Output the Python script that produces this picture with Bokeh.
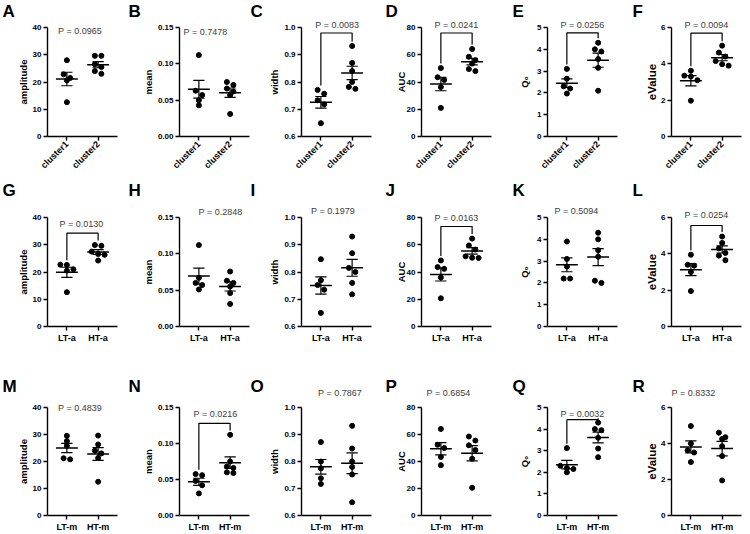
import math
import numpy as np
from bokeh.plotting import figure
from bokeh.layouts import column, row
from bokeh.models import Label, FixedTicker, Range1d
from bokeh.embed import file_html
from bokeh.resources import INLINE

# ---------------------------------------------------------------- data
# Row 1: cluster1 vs cluster2
amp_cluster1 = [28.0, 22.8, 21.5, 20.6, 12.6]
amp_cluster2 = [29.6, 29.6, 26.5, 25.5, 24.0, 23.0]
mean_cluster1 = [0.112, 0.063, 0.057, 0.050, 0.043]
mean_cluster2 = [0.075, 0.071, 0.066, 0.062, 0.057, 0.031]
width_cluster1 = [0.771, 0.757, 0.733, 0.718, 0.649]
width_cluster2 = [0.932, 0.870, 0.840, 0.800, 0.782, 0.775]
auc_cluster1 = [50.2, 43.5, 41.5, 36.3, 21.0]
auc_cluster2 = [64.2, 58.5, 56.0, 53.5, 49.5, 48.0]
q0_cluster1 = [3.10, 2.65, 2.30, 2.20, 1.97]
q0_cluster2 = [4.30, 4.00, 3.90, 3.55, 3.15, 2.10]
ev_cluster1 = [3.62, 3.35, 3.30, 3.10, 1.97]
ev_cluster2 = [5.00, 4.62, 4.40, 4.15, 3.98, 3.90]

# Row 2: LT-a vs HT-a
amp_lta = [22.7, 22.6, 21.0, 20.5, 12.6]
amp_hta = [29.9, 29.6, 27.5, 26.6, 26.3, 24.2]
mean_lta = [0.112, 0.067, 0.060, 0.057, 0.051]
mean_hta = [0.0757, 0.063, 0.060, 0.055, 0.046, 0.031]
width_lta = [0.847, 0.770, 0.752, 0.735, 0.650]
width_hta = [0.930, 0.869, 0.815, 0.800, 0.760, 0.718]
auc_lta = [48.5, 43.6, 42.3, 36.0, 20.7]
auc_hta = [64.5, 59.5, 56.5, 51.5, 50.5, 50.3]
q0_lta = [3.90, 3.10, 2.75, 2.20, 2.20]
q0_hta = [4.30, 4.00, 3.50, 3.20, 2.10, 2.00]
ev_lta = [3.95, 3.40, 3.35, 3.00, 1.95]
ev_hta = [4.95, 4.60, 4.30, 4.05, 3.90, 3.65]

# Row 3: LT-m vs HT-m
amp_ltm = [29.5, 27.6, 25.8, 21.2, 20.8]
amp_htm = [29.6, 26.3, 24.0, 23.0, 21.3, 12.5]
mean_ltm = [0.0575, 0.0560, 0.0480, 0.0420, 0.0307]
mean_htm = [0.112, 0.075, 0.068, 0.066, 0.060, 0.059]
width_ltm = [0.872, 0.800, 0.775, 0.738, 0.717]
width_htm = [0.932, 0.848, 0.800, 0.780, 0.752, 0.649]
auc_ltm = [64.1, 52.4, 50.0, 43.4, 37.3]
auc_htm = [58.5, 55.5, 52.0, 48.5, 42.0, 20.5]
q0_ltm = [3.12, 2.30, 2.20, 2.15, 2.00]
q0_htm = [4.30, 4.00, 3.95, 3.60, 3.10, 2.70]
ev_ltm = [4.97, 4.00, 3.62, 3.50, 2.97]
ev_htm = [4.60, 4.35, 4.25, 3.85, 3.30, 1.95]

group_labels = [["cluster1", "cluster2"], ["LT-a", "HT-a"], ["LT-m", "HT-m"]]
panel_letters = [list("ABCDEF"), list("GHIJKL"), list("MNOPQR")]
p_values = [
    [0.0965, 0.7478, 0.0083, 0.0241, 0.0256, 0.0094],
    [0.0130, 0.2848, 0.1979, 0.0163, 0.5094, 0.0254],
    [0.4839, 0.0216, 0.7867, 0.6854, 0.0032, 0.8332],
]

metric_names = ["amplitude", "mean", "width", "AUC", "Q\u2080", "eValue"]
amp_ticks, amp_tick_labels = [0, 10, 20, 30, 40], ["0", "10", "20", "30", "40"]
mean_ticks, mean_tick_labels = [0, 0.05, 0.10, 0.15], ["0.00", "0.05", "0.10", "0.15"]
width_ticks, width_tick_labels = [0.6, 0.7, 0.8, 0.9, 1.0], ["0.6", "0.7", "0.8", "0.9", "1.0"]
auc_ticks, auc_tick_labels = [0, 20, 40, 60, 80], ["0", "20", "40", "60", "80"]
q0_ticks, q0_tick_labels = [0, 1, 2, 3, 4, 5], ["0", "1", "2", "3", "4", "5"]
ev_ticks, ev_tick_labels = [0, 2, 4, 6], ["0", "2", "4", "6"]

axis_ticks = [amp_ticks, mean_ticks, width_ticks, auc_ticks, q0_ticks, ev_ticks]
axis_tick_labels = [amp_tick_labels, mean_tick_labels, width_tick_labels,
                    auc_tick_labels, q0_tick_labels, ev_tick_labels]

series = [
    [(amp_cluster1, amp_cluster2), (mean_cluster1, mean_cluster2), (width_cluster1, width_cluster2),
     (auc_cluster1, auc_cluster2), (q0_cluster1, q0_cluster2), (ev_cluster1, ev_cluster2)],
    [(amp_lta, amp_hta), (mean_lta, mean_hta), (width_lta, width_hta),
     (auc_lta, auc_hta), (q0_lta, q0_hta), (ev_lta, ev_hta)],
    [(amp_ltm, amp_htm), (mean_ltm, mean_htm), (width_ltm, width_htm),
     (auc_ltm, auc_htm), (q0_ltm, q0_htm), (ev_ltm, ev_htm)],
]

# ---------------------------------------------------------------- layout
FIG_W = 125
FRAME_W = 70
FRAME_H = 109
ROW_H = [180, 180, 174]
ROW_TOP = [27, 37, 47]            # frames in a row share the same top border
COL_LEFT = [47, 54, 51, 46, 47, 46]
LETTER_X = [2, 3, 0, 10, 12, 7]
LETTER_MID = [11, 9.5, 25.5]      # vertical centre of the panel letters within each row
LABEL_STANDOFF = [1, 1, 1, -3, 4, 0]
X0, X1 = -0.62, 1.62

# P-value label offsets (px): horizontal from the pair centre, vertical above the frame top
P_OFFSET = [
    [(-2.5, -3.7), (-9, -4.7), (0.7, 3), (0, 3), (0, 3), (0, 2.7)],
    [(-1, -6.3), (6, 6), (-3.5, 6.7), (0, 0), (-6, 6.3), (0, 2.7)],
    [(-2.5, 0), (1, -6.3), (3.5, 15), (-8, 15), (0, -7), (-13, 15)],
]
# bracket height, px below the frame top
BRACKET_DROP = [
    [None, None, 5.5, 5.5, 5.3, 5.7],
    [15.7, None, None, 9, None, 8],
    [None, 16, None, None, 12.3, None],
]

FONT = "Liberation Sans"


def swarm_offsets(vals, px_per_y, px_per_x, step_px=6.5, thr_px=4.8):
    """Spread points that sit at nearly the same height side by side."""
    vals = np.asarray(vals, dtype=float)
    order = np.argsort(-vals)
    clusters = []
    for idx in order:
        ypx = vals[idx] * px_per_y
        if clusters and clusters[-1][0] - ypx < thr_px:
            clusters[-1][1].append(idx)
        else:
            clusters.append([ypx, [idx]])
    off = np.zeros(len(vals))
    for _, members in clusters:
        k = len(members)
        for i, m in enumerate(members):
            off[m] = (i - (k - 1) / 2) * step_px
    return off / px_per_x


def make_panel(r, c):
    ticks = axis_ticks[c]
    y0, y1 = ticks[0], ticks[-1]
    left = COL_LEFT[c]
    top = ROW_TOP[r]
    height = ROW_H[r]
    p = figure(width=FIG_W, height=height, output_backend="svg", toolbar_location=None,
               x_range=Range1d(X0, X1), y_range=Range1d(y0, y1),
               min_border_left=left, min_border_right=FIG_W - FRAME_W - left,
               min_border_top=top, min_border_bottom=height - FRAME_H - top)
    p.outline_line_color = None
    p.xgrid.visible = False
    p.ygrid.visible = False
    p.background_fill_color = "white"
    p.border_fill_color = "white"

    # axes
    p.yaxis.ticker = FixedTicker(ticks=ticks)
    p.yaxis.major_label_overrides = {t: lab for t, lab in zip(ticks, axis_tick_labels[c])}
    p.xaxis.ticker = FixedTicker(ticks=[0, 1])
    p.xaxis.major_label_overrides = {0: group_labels[r][0], 1: group_labels[r][1]}
    for ax in (p.xaxis, p.yaxis):
        ax.axis_line_color = "black"
        ax.axis_line_width = 1.4
        ax.major_tick_line_color = "black"
        ax.major_tick_line_width = 1.4
        ax.major_tick_out = 4
        ax.major_tick_in = 0
        ax.minor_tick_line_color = None
        ax.major_label_text_font = FONT
        ax.major_label_text_font_style = "bold"
        ax.major_label_text_color = "black"
        ax.major_label_standoff = 2
    p.yaxis.major_label_text_font_size = "8px"
    p.xaxis.major_label_text_font_size = "9px"
    if r == 0:
        p.xaxis.major_label_orientation = math.pi / 4
    p.yaxis.axis_label = metric_names[c]
    p.yaxis.axis_label_text_font = FONT
    p.yaxis.axis_label_text_font_style = "bold"
    p.yaxis.axis_label_text_color = "black"
    p.yaxis.axis_label_text_font_size = "11.5px" if c == 5 else "9.5px"
    p.yaxis.axis_label_standoff = LABEL_STANDOFF[c]

    px_per_y = FRAME_H / (y1 - y0)
    px_per_x = FRAME_W / (X1 - X0)

    # individual points, mean line and SEM whiskers
    groups = series[r][c]
    for gi, vals in enumerate(groups):
        v = np.asarray(vals, dtype=float)
        xs = gi + swarm_offsets(v, px_per_y, px_per_x)
        p.scatter(xs, v, size=5, color="black")
        m = v.mean()
        sem = v.std(ddof=1) / math.sqrt(len(v))
        p.segment(x0=[gi - 0.35], x1=[gi + 0.35], y0=[m], y1=[m], line_color="black", line_width=1.5)
        p.segment(x0=[gi, gi - 0.18, gi - 0.18], x1=[gi, gi + 0.18, gi + 0.18],
                  y0=[m - sem, m + sem, m - sem], y1=[m + sem, m + sem, m - sem],
                  line_color="black", line_width=1.2)

    # significance bracket for P < 0.05
    pv = p_values[r][c]
    if pv < 0.05:
        by = y1 - BRACKET_DROP[r][c] / px_per_y
        gap = 4.5 / px_per_y
        lm = max(groups[0]) + gap
        rm = max(groups[1]) + gap
        p.line([0, 0, 1, 1], [lm, by, by, rm], line_color="black", line_width=1.2)

    # texts sit in side panels so the frame does not clip them
    dx, dy = P_OFFSET[r][c]
    p.add_layout(Label(x=0.5 + dx / px_per_x, y=y1 + dy / px_per_y, text=f"P = {pv:.4f}",
                       text_align="center", text_baseline="middle", text_font=FONT,
                       text_font_size="9px", text_color="#3c3c3c"), "above")

    lx = X0 + (LETTER_X[c] - left) / px_per_x
    ly = y1 + (top - LETTER_MID[r]) / px_per_y
    p.add_layout(Label(x=lx, y=ly, text=panel_letters[r][c], text_align="left",
                       text_baseline="middle", text_font=FONT, text_font_style="bold",
                       text_font_size="17px", text_color="black"), "left")
    return p


rows = [row(*[make_panel(r, c) for c in range(6)], spacing=0) for r in range(3)]
layout = column(*rows, spacing=0)

open("out.html", "w").write(file_html(layout, INLINE))
